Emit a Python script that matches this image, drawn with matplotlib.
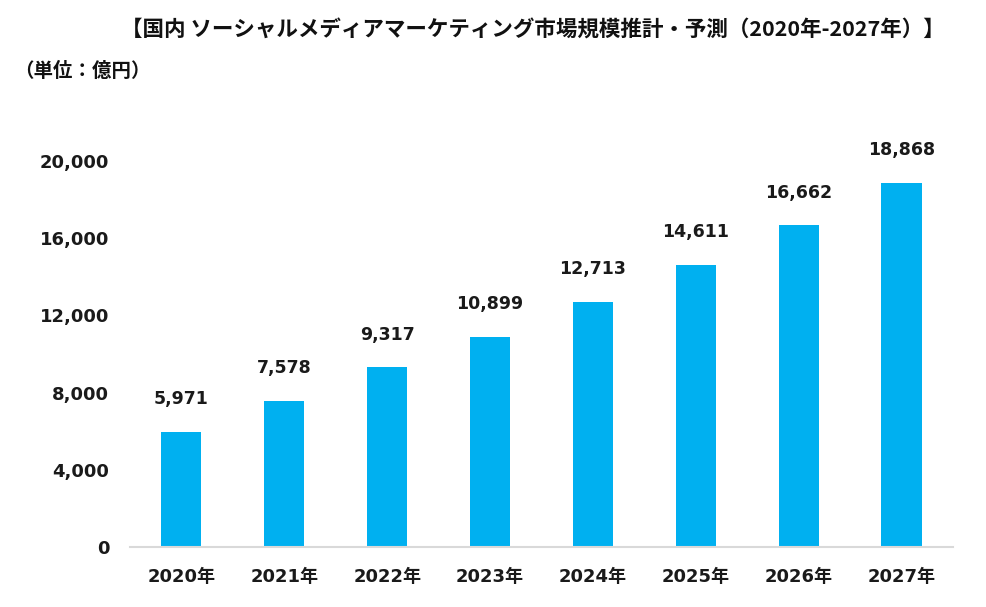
import matplotlib
matplotlib.use("Agg")
import matplotlib.pyplot as plt

plt.rcParams['font.family'] = ['DejaVu Sans', 'Noto Sans CJK JP']

years = ["2020年", "2021年", "2022年", "2023年", "2024年", "2025年", "2026年", "2027年"]
values = [5971, 7578, 9317, 10899, 12713, 14611, 16662, 18868]
yticks = [0, 4000, 8000, 12000, 16000, 20000]

fig = plt.figure(figsize=(9.87, 6.07), dpi=100)
ax = fig.add_axes([0.1317, 0.0988, 0.8338, 0.636])

x = range(len(years))
ax.bar(x, values, width=0.39, color="#00B0F0", zorder=2)

for xi, v in zip(x, values):
    ax.annotate(f"{v:,}", (xi, v), xytext=(0, 17), textcoords="offset points",
                ha="center", va="bottom", fontsize=12.5, fontweight="bold",
                color="#1a1a1a", annotation_clip=False)

ax.set_xlim(-0.5, len(years) - 0.5)
ax.set_ylim(0, 20000)
ax.set_yticks(yticks)
ax.set_yticklabels([f"{t:,}" for t in yticks])
ax.set_xticks(list(x))
ax.set_xticklabels(years)
ax.tick_params(axis="both", length=0, labelsize=13, colors="#1a1a1a")
ax.tick_params(axis="x", pad=15)
ax.tick_params(axis="y", pad=15)
for lab in ax.get_xticklabels() + ax.get_yticklabels():
    lab.set_fontweight("bold")

for s in ["top", "right", "left"]:
    ax.spines[s].set_visible(False)
ax.spines["bottom"].set_color("#D9D9D9")
ax.spines["bottom"].set_linewidth(1.5)

fig.text(0.54, 0.95, "【国内 ソーシャルメディアマーケティング市場規模推計・予測（2020年-2027年）】",
         ha="center", va="center", fontsize=15.5, fontweight="bold",
         family=["Noto Sans CJK JP", "DejaVu Sans"], color="#111111")
fig.text(0.014, 0.882, "（単位：億円）", ha="left", va="center", fontsize=14,
         fontweight="bold", family=["Noto Sans CJK JP", "DejaVu Sans"], color="#111111")

fig.savefig("out.png", dpi=100)
